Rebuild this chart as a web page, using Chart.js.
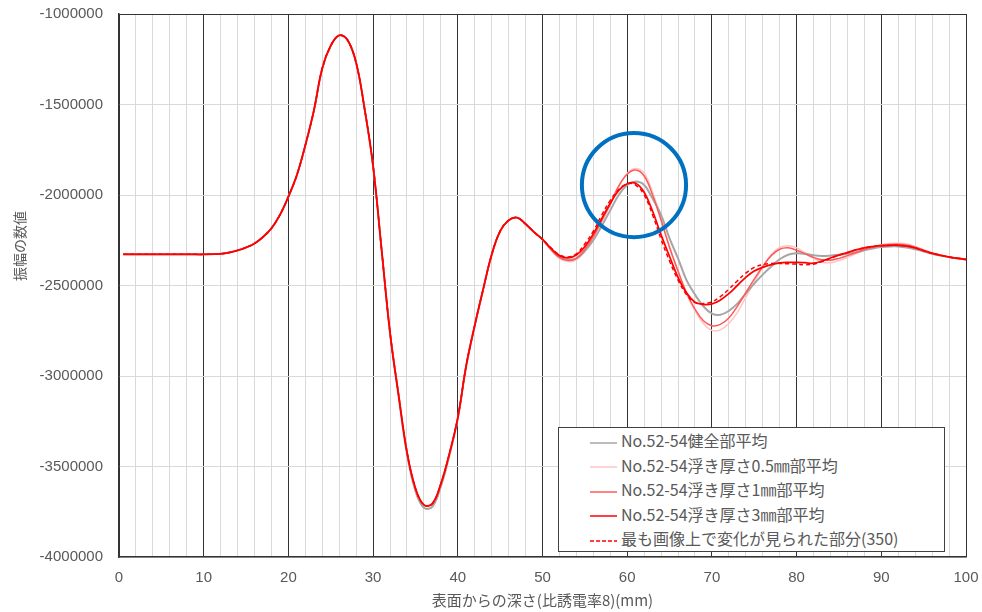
<!DOCTYPE html>
<html>
<head>
<meta charset="utf-8">
<script src="https://cdn.jsdelivr.net/npm/chart.js@4"></script>
<style>
  html, body { margin: 0; padding: 0; background: #fff; }
  #wrap { position: relative; width: 982px; height: 612px; }
  #legend {
    position: absolute; left: 558px; top: 427px; width: 385px; height: 123px;
    background: #fff; border: 1px solid #404040;
    font-family: 'Noto Sans CJK JP', 'Liberation Sans', sans-serif; font-size: 16px; color: #595959;
    box-sizing: content-box;
  }
  #legend .row { position: absolute; left: 31px; height: 22px; line-height: 22px; white-space: nowrap; }
  #legend svg { vertical-align: middle; margin-right: 4px; }
</style>
</head>
<body>
<div id="wrap">
  <canvas id="chart" width="982" height="612"></canvas>
  <div id="legend"></div>
</div>
<script>
(function () {
  'use strict';

  // depth (mm), shared by all series
  var depth = [0.5, 1, 2, 3, 4, 5, 6, 7, 8, 9, 10, 11, 12, 13, 14, 15, 16, 17, 18, 19, 20,
    21, 22, 23, 24, 25, 26, 27, 28, 29, 30, 31, 32, 33, 34, 35, 36, 37, 38, 39, 40,
    41, 42, 43, 44, 45, 46, 47, 48, 49, 50, 51, 52, 53, 54, 55, 56, 57, 58, 59, 60,
    61, 62, 63, 64, 65, 66, 67, 68, 69, 70, 71, 72, 73, 74, 75, 76, 77, 78, 79, 80,
    81, 82, 83, 84, 85, 86, 87, 88, 89, 90, 91, 92, 93, 94, 95, 96, 97, 98, 99, 100];

  var labels = [
    'No.52-54健全部平均',
    'No.52-54浮き厚さ0.5㎜部平均',
    'No.52-54浮き厚さ1㎜部平均',
    'No.52-54浮き厚さ3㎜部平均',
    '最も画像上で変化が見られた部分(350)'
  ];

  var healthy = [-2328000, -2328000, -2328000, -2328000, -2328000, -2328000, -2328000, -2328000, -2328000, -2328000, -2328000,
    -2327000, -2325000, -2318000, -2306000, -2290000, -2268000, -2232000, -2184000, -2110000, -2009000,
    -1890000, -1725000, -1535000, -1300000, -1175000, -1118000, -1145000, -1270000, -1525000, -1840000,
    -2300000, -2765000, -3110000, -3430000, -3635000, -3728000, -3722000, -3610000, -3440000, -3235000,
    -2945000, -2722000, -2520000, -2330000, -2200000, -2140000, -2125000, -2160000, -2205000, -2245000,
    -2300000, -2345000, -2358000, -2350000, -2310000, -2250000, -2170000, -2085000, -2000000, -1945000,
    -1926000, -1945000, -2020000, -2110000, -2240000, -2350000, -2470000, -2550000, -2615000, -2655000,
    -2662000, -2640000, -2600000, -2545000, -2490000, -2440000, -2395000, -2355000, -2330000, -2322000,
    -2325000, -2333000, -2337000, -2335000, -2330000, -2325000, -2318000, -2305000, -2295000, -2288000,
    -2284000, -2284000, -2290000, -2300000, -2312000, -2325000, -2335000, -2343000, -2350000, -2356000];

  var float05 = [-2328000, -2328000, -2328000, -2328000, -2328000, -2328000, -2328000, -2328000, -2328000, -2328000, -2328000,
    -2327000, -2325000, -2318000, -2306000, -2290000, -2268000, -2232000, -2184000, -2110000, -2009000,
    -1890000, -1725000, -1535000, -1300000, -1175000, -1118000, -1145000, -1270000, -1525000, -1840000,
    -2300000, -2765000, -3110000, -3430000, -3635000, -3728000, -3722000, -3610000, -3440000, -3235000,
    -2945000, -2722000, -2520000, -2330000, -2200000, -2140000, -2125000, -2160000, -2205000, -2248000,
    -2305000, -2350000, -2368000, -2358000, -2310000, -2240000, -2150000, -2055000, -1955000, -1880000,
    -1853000, -1880000, -1985000, -2130000, -2285000, -2420000, -2545000, -2640000, -2710000, -2748000,
    -2745000, -2710000, -2650000, -2565000, -2480000, -2400000, -2330000, -2290000, -2280000, -2292000,
    -2320000, -2350000, -2370000, -2374000, -2362000, -2345000, -2325000, -2305000, -2288000, -2275000,
    -2268000, -2266000, -2270000, -2284000, -2302000, -2320000, -2333000, -2343000, -2350000, -2356000];

  var float1 = [-2328000, -2328000, -2328000, -2328000, -2328000, -2328000, -2328000, -2328000, -2328000, -2328000, -2328000,
    -2327000, -2325000, -2318000, -2306000, -2290000, -2268000, -2232000, -2184000, -2110000, -2009000,
    -1890000, -1725000, -1535000, -1300000, -1175000, -1118000, -1145000, -1270000, -1525000, -1840000,
    -2300000, -2760000, -3100000, -3420000, -3620000, -3712000, -3705000, -3595000, -3430000, -3230000,
    -2940000, -2720000, -2520000, -2330000, -2200000, -2140000, -2125000, -2160000, -2205000, -2245000,
    -2300000, -2345000, -2362000, -2350000, -2300000, -2230000, -2140000, -2050000, -1950000, -1885000,
    -1862000, -1895000, -2000000, -2140000, -2290000, -2420000, -2540000, -2630000, -2695000, -2722000,
    -2715000, -2680000, -2615000, -2540000, -2465000, -2395000, -2335000, -2300000, -2292000, -2305000,
    -2325000, -2345000, -2358000, -2360000, -2350000, -2335000, -2318000, -2300000, -2287000, -2278000,
    -2273000, -2272000, -2276000, -2288000, -2305000, -2320000, -2332000, -2342000, -2350000, -2356000];

  var float3 = [-2328000, -2328000, -2328000, -2328000, -2328000, -2328000, -2328000, -2328000, -2328000, -2328000, -2328000,
    -2327000, -2325000, -2318000, -2306000, -2290000, -2268000, -2232000, -2184000, -2110000, -2009000,
    -1890000, -1725000, -1535000, -1300000, -1175000, -1118000, -1145000, -1270000, -1525000, -1840000,
    -2300000, -2760000, -3100000, -3420000, -3620000, -3712000, -3705000, -3595000, -3430000, -3230000,
    -2940000, -2720000, -2520000, -2330000, -2200000, -2140000, -2125000, -2160000, -2205000, -2245000,
    -2295000, -2335000, -2348000, -2332000, -2285000, -2215000, -2130000, -2046000, -1975000, -1938000,
    -1935000, -1985000, -2090000, -2220000, -2340000, -2455000, -2540000, -2592000, -2605000, -2602000,
    -2580000, -2545000, -2500000, -2455000, -2420000, -2400000, -2385000, -2375000, -2372000, -2372000,
    -2374000, -2377000, -2365000, -2348000, -2332000, -2318000, -2303000, -2292000, -2285000, -2280000,
    -2278000, -2278000, -2282000, -2292000, -2308000, -2322000, -2333000, -2343000, -2350000, -2356000];

  var mostChanged = [-2328000, -2328000, -2328000, -2328000, -2328000, -2328000, -2328000, -2328000, -2328000, -2328000, -2328000,
    -2327000, -2325000, -2318000, -2306000, -2290000, -2268000, -2232000, -2184000, -2110000, -2009000,
    -1890000, -1725000, -1535000, -1300000, -1175000, -1118000, -1145000, -1270000, -1525000, -1840000,
    -2300000, -2760000, -3100000, -3420000, -3620000, -3712000, -3705000, -3595000, -3430000, -3230000,
    -2940000, -2720000, -2520000, -2330000, -2200000, -2140000, -2125000, -2160000, -2205000, -2245000,
    -2292000, -2330000, -2342000, -2325000, -2270000, -2200000, -2110000, -2030000, -1970000, -1938000,
    -1945000, -2000000, -2110000, -2245000, -2365000, -2470000, -2550000, -2595000, -2600000, -2590000,
    -2562000, -2520000, -2475000, -2432000, -2400000, -2385000, -2378000, -2378000, -2380000, -2382000,
    -2385000, -2382000, -2368000, -2350000, -2333000, -2318000, -2303000, -2292000, -2285000, -2280000,
    -2278000, -2278000, -2282000, -2292000, -2308000, -2322000, -2333000, -2343000, -2350000, -2356000];

  var xTicks = [0, 10, 20, 30, 40, 50, 60, 70, 80, 90, 100];
  var yTicks = [-1000000, -1500000, -2000000, -2500000, -3000000, -3500000, -4000000];

  var LINE_COLORS = ['#a6a6a6', '#ffc4c4', '#ff5a5a', '#ff0000', '#ff0000'];
  var TEXT_COLOR = '#595959';
  var BASE_FONT = "'Liberation Sans', 'Noto Sans CJK JP', sans-serif";
  var CJK_FONT = "'Noto Sans CJK JP', 'Liberation Sans', sans-serif";

  // highlight circle around the peak near 60mm
  var CIRCLE_CENTER = { x: 60.8, y: -1945000 };
  var CIRCLE_RADIUS_MM = 6.15;

  function pts(values) {
    return values.map(function (v, i) { return { x: depth[i], y: v }; });
  }

  var series = [healthy, float05, float1, float3, mostChanged];
  var widths = [2, 1.5, 1.5, 1.75, 1.5];
  var orders = [3, 4, 2, 1, 0];

  var datasets = series.map(function (s, i) {
    return {
      label: labels[i],
      data: pts(s),
      borderColor: LINE_COLORS[i],
      backgroundColor: LINE_COLORS[i],
      borderWidth: widths[i],
      borderDash: i === 4 ? [4, 3] : [],
      pointRadius: 0,
      tension: 0.4,
      order: orders[i]
    };
  });

  var circlePlugin = {
    id: 'peakCircle',
    afterDatasetsDraw: function (chart) {
      var xs = chart.scales.x, ys = chart.scales.y, ctx = chart.ctx;
      var cx = xs.getPixelForValue(CIRCLE_CENTER.x);
      var cy = ys.getPixelForValue(CIRCLE_CENTER.y);
      var r = xs.getPixelForValue(CIRCLE_CENTER.x + CIRCLE_RADIUS_MM) - cx;
      ctx.save();
      ctx.beginPath();
      ctx.arc(cx, cy, r, 0, Math.PI * 2);
      ctx.lineWidth = 4;
      ctx.strokeStyle = '#0070c0';
      ctx.stroke();
      ctx.restore();
    }
  };

  // y axis title sits a bit above the plot middle, as in the source
  var yTitlePlugin = {
    id: 'yTitle',
    afterDraw: function (chart) {
      var ctx = chart.ctx;
      ctx.save();
      ctx.translate(20, 246);
      ctx.rotate(-Math.PI / 2);
      ctx.font = '14px ' + CJK_FONT;
      ctx.fillStyle = TEXT_COLOR;
      ctx.textAlign = 'center';
      ctx.textBaseline = 'middle';
      ctx.fillText('振幅の数値', 0, 0);
      ctx.restore();
    }
  };

  new Chart(document.getElementById('chart'), {
    type: 'line',
    data: { datasets: datasets },
    options: {
      responsive: false,
      animation: false,
      devicePixelRatio: 1,
      layout: { padding: { top: 14, right: 16, left: 0, bottom: 0 } },
      plugins: {
        legend: { display: false },
        tooltip: { enabled: false }
      },
      scales: {
        x: {
          type: 'linear',
          min: 0,
          max: 100,
          afterFit: function (s) { s.height = 55; s.paddingLeft = 0; s.paddingRight = 0; },
          afterBuildTicks: function (s) {
            var t = [];
            for (var v = 0; v <= 100; v += 2) t.push({ value: v });
            s.ticks = t;
          },
          ticks: {
            autoSkip: false,
            maxRotation: 0,
            padding: 12,
            color: TEXT_COLOR,
            font: { size: 15, family: BASE_FONT },
            callback: function (v) { return xTicks.indexOf(v) >= 0 ? String(v) : ''; }
          },
          grid: {
            drawTicks: false,
            color: function (c) { return c.tick && c.tick.value % 10 === 0 ? '#333333' : '#d9d9d9'; },
            lineWidth: 1
          },
          border: { display: true, color: '#333333', width: 1.5 },
          title: {
            display: true,
            text: '表面からの深さ(比誘電率8)(mm)',
            color: TEXT_COLOR,
            font: { size: 15, family: CJK_FONT },
            padding: { top: 0, bottom: 3 }
          }
        },
        y: {
          min: -4000000,
          max: -1000000,
          afterFit: function (s) { s.width = 119; s.paddingTop = 0; s.paddingBottom = 0; },
          afterBuildTicks: function (s) {
            s.ticks = yTicks.slice().reverse().map(function (v) { return { value: v }; });
          },
          ticks: {
            padding: 16,
            color: TEXT_COLOR,
            font: { size: 15, family: BASE_FONT },
            callback: function (v) { return String(v); }
          },
          grid: {
            drawTicks: false,
            color: function (c) { return c.tick && c.tick.value === -1000000 ? '#333333' : '#d9d9d9'; },
            lineWidth: 1
          },
          border: { display: true, color: '#333333', width: 1.5 }
        }
      }
    },
    plugins: [circlePlugin, yTitlePlugin]
  });

  // legend box built from the dataset list
  var legend = document.getElementById('legend');
  var SVG_NS = 'http://www.w3.org/2000/svg';
  datasets.forEach(function (ds, i) {
    var row = document.createElement('div');
    row.className = 'row';
    row.style.top = (1 + i * 24.5) + 'px';
    var svg = document.createElementNS(SVG_NS, 'svg');
    svg.setAttribute('width', '27');
    svg.setAttribute('height', '6');
    var ln = document.createElementNS(SVG_NS, 'line');
    ln.setAttribute('x1', '0'); ln.setAttribute('x2', '27');
    ln.setAttribute('y1', '3'); ln.setAttribute('y2', '3');
    ln.setAttribute('stroke', ds.borderColor);
    ln.setAttribute('stroke-width', '1.5');
    if (ds.borderDash.length) ln.setAttribute('stroke-dasharray', '4 2');
    svg.appendChild(ln);
    row.appendChild(svg);
    row.appendChild(document.createTextNode(ds.label));
    legend.appendChild(row);
  });
})();
</script>
</body>
</html>
